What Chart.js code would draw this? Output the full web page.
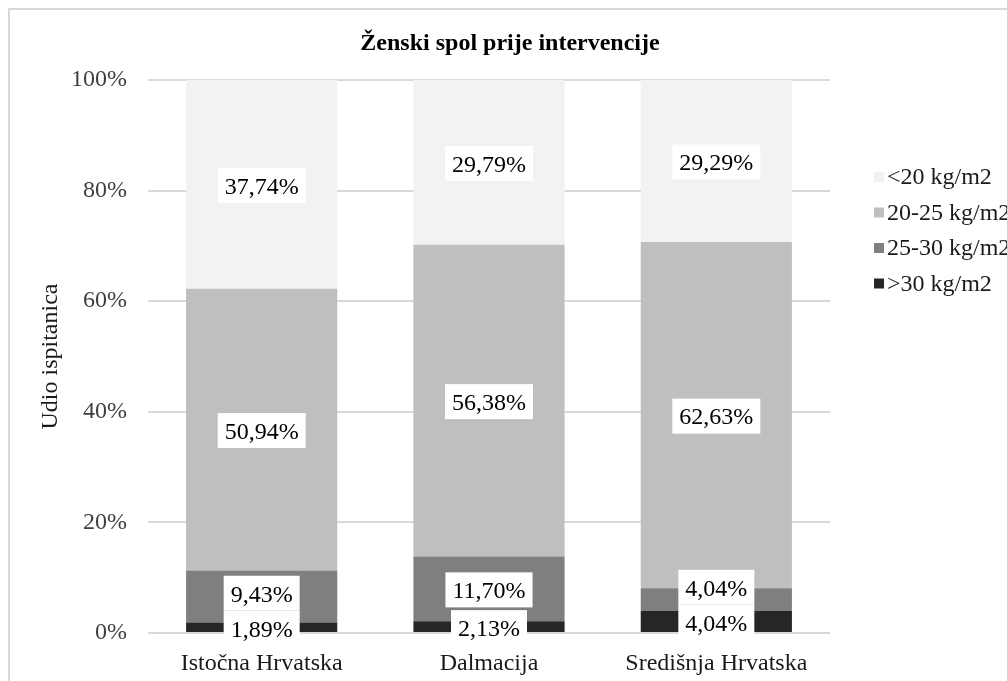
<!DOCTYPE html>
<html>
<head>
<meta charset="utf-8">
<script src="https://cdn.jsdelivr.net/npm/chart.js@4"></script>
<style>
  html, body { margin: 0; padding: 0; background: #fff; overflow: hidden; }
  #wrap { width: 1007px; height: 681px; }
</style>
</head>
<body>
<div id="wrap"><canvas id="chart" width="1007" height="681"></canvas></div>
<script>
// podaci s grafa
const categories = ['Istočna Hrvatska', 'Dalmacija', 'Središnja Hrvatska'];
const seriesLabels = ['>30 kg/m2', '25-30 kg/m2', '20-25 kg/m2', '<20 kg/m2'];
const over30 = [1.89, 2.13, 4.04];
const from25to30 = [9.43, 11.70, 4.04];
const from20to25 = [50.94, 56.38, 62.63];
const under20 = [37.74, 29.79, 29.29];
const seriesColors = ['#262626', '#7f7f7f', '#bfbfbf', '#f2f2f2'];

const chartTitle = 'Ženski spol prije intervencije';
const yTitle = 'Udio ispitanica';
const FONT = "'Liberation Serif', 'Times New Roman', serif";

// okvir, naslov, legenda i oznake vrijednosti
const decorPlugin = {
    id: 'decor',
    beforeDraw(chart) {
        const ctx = chart.ctx;
        ctx.save();
        ctx.strokeStyle = '#d9d9d9';
        ctx.lineWidth = 2;
        ctx.strokeRect(9, 9, 1200, 900);
        ctx.restore();
    },
    afterDatasetsDraw(chart) {
        const ctx = chart.ctx;
        const h = 35;
        ctx.save();
        ctx.font = '24px ' + FONT;
        ctx.textAlign = 'center';
        ctx.textBaseline = 'middle';
        categories.forEach((c, i) => {
            let prevTop = Infinity;
            chart.data.datasets.forEach((ds, d) => {
                const el = chart.getDatasetMeta(d).data[i];
                const p = el.getProps(['x', 'y', 'base'], true);
                let cy = (p.y + p.base) / 2 + 1;
                cy = Math.min(cy, prevTop - h / 2);
                const text = ds.data[i].toFixed(2).replace('.', ',') + '%';
                const w = ctx.measureText(text).width + 14;
                ctx.fillStyle = '#ffffff';
                ctx.fillRect(p.x - w / 2, cy - h / 2, w, h);
                ctx.fillStyle = '#000000';
                ctx.fillText(text, p.x, cy + 2);
                prevTop = cy - h / 2;
            });
        });
        ctx.restore();
    },
    afterDraw(chart) {
        const ctx = chart.ctx;
        ctx.save();
        // naslov
        ctx.font = 'bold 24px ' + FONT;
        ctx.fillStyle = '#000000';
        ctx.textAlign = 'center';
        ctx.textBaseline = 'middle';
        ctx.fillText(chartTitle, 510, 44);
        // legenda (obrnuti redoslijed)
        ctx.font = '24px ' + FONT;
        ctx.textAlign = 'left';
        const n = chart.data.datasets.length;
        for (let k = 0; k < n; k++) {
            const ds = chart.data.datasets[n - 1 - k];
            const y = 177 + k * 35.5;
            ctx.fillStyle = ds.backgroundColor;
            ctx.fillRect(874, y - 5, 10, 10);
            ctx.fillStyle = '#1a1a1a';
            ctx.fillText(ds.label, 887, y + 1);
        }
        ctx.restore();
    }
};

const datasets = [over30, from25to30, from20to25, under20].map((vals, k) => ({
    label: seriesLabels[k],
    data: vals,
    backgroundColor: seriesColors[k],
    borderWidth: 0,
    categoryPercentage: 1,
    barPercentage: 0.665
}));

new Chart(document.getElementById('chart').getContext('2d'), {
    type: 'bar',
    data: { labels: categories, datasets: datasets },
    options: {
        responsive: false,
        animation: false,
        layout: { padding: { top: 80, right: 177, bottom: 0, left: 0 } },
        plugins: {
            legend: { display: false },
            title: { display: false },
            tooltip: { enabled: false }
        },
        scales: {
            x: {
                stacked: true,
                grid: { display: false },
                border: { display: false },
                ticks: { color: '#1a1a1a', padding: 8, font: { family: FONT, size: 24 } },
                afterFit(scale) { scale.height = 48; }
            },
            y: {
                stacked: true,
                min: 0,
                max: 100,
                grid: { color: '#d9d9d9', lineWidth: 2, drawTicks: false },
                border: { display: false },
                ticks: {
                    stepSize: 20,
                    padding: 21,
                    color: '#404040',
                    font: { family: FONT, size: 24 },
                    callback: v => v + '%'
                },
                title: {
                    display: true,
                    text: yTitle,
                    color: '#1a1a1a',
                    font: { family: FONT, size: 24 },
                    padding: { top: 36, bottom: 0 }
                },
                afterFit(scale) { scale.width = 148; }
            }
        }
    },
    plugins: [decorPlugin]
});
</script>
</body>
</html>
